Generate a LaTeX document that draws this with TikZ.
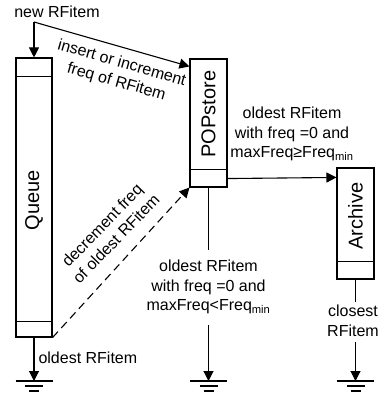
\documentclass[tikz,border=0pt]{standalone}
\usepackage{fontspec}
\setmainfont{Liberation Sans}
\usetikzlibrary{arrows.meta,calc}
\begin{document}
\begin{tikzpicture}[x=1pt,y=-1pt, line width=1.1pt,
  lbl/.style={font=\fontsize{16}{19.5}\selectfont, inner sep=0pt, align=center},
  boxtxt/.style={font=\fontsize{20}{24}\selectfont, rotate=90, inner sep=0pt},
  store/.style={draw, minimum width=36pt, inner sep=0pt},
  arr/.style={-{Triangle[length=10pt,width=10pt]}},
  pics/ground/.style={code={
    \draw (-18.5,0) -- (18.5,0);
    \draw (-9,5) -- (9,5);
    \draw (-5,10) -- (5,10);}}
]
\useasboundingbox (0,0) rectangle (379,393);

% stores
\node[store, minimum height=279pt] (queue) at (34,197.5) {};
\draw ($(queue.north west)+(0,19)$) -- ($(queue.north east)+(0,19)$);
\draw ($(queue.south west)+(0,-16)$) -- ($(queue.south east)+(0,-16)$);
\node[boxtxt] (queuetxt) at (34,200) {Queue};

\node[store, minimum width=37pt, minimum height=128pt] (pop) at (208.5,123) {};
\draw ($(pop.south west)+(0,-18)$) -- ($(pop.south east)+(0,-18)$);
\node[boxtxt] (poptxt) at (208.5,114) {POPstore};

\node[store, minimum width=37pt, minimum height=111pt] (arch) at (355.5,223.5) {};
\draw ($(arch.south west)+(0,-18)$) -- ($(arch.south east)+(0,-18)$);
\node[boxtxt] (archtxt) at (355.5,216) {Archive};

% input
\node[lbl] (new) at (57,12) {new RFitem};
\coordinate (nr) at (34,22);
\draw[arr] (nr) -- (queue.north);
\draw[arr] (nr) -- ($(pop.north west)+(0,8)$);
\node[lbl, rotate=-16] (ins) at (119,73) {insert or increment\\freq of RFitem};

% pop -> archive
\draw[arr] ($(pop.south east)+(0,-9)$) -- ($(arch.north west)+(0,10)$);
\node[lbl] (cond1) at (292,134) {oldest RFitem\\with freq =0 and\\maxFreq≥Freq\textsubscript{min}};

% queue -> pop dashed
\draw[arr, dash pattern=on 8pt off 5pt] (queue.south east) -- (pop.south west);
\node[lbl, rotate=46] (dec) at (109,232) {decrement freq\\of oldest RFitem};

% queue out
\coordinate (g1) at (34,381);
\draw[arr] (queue.south) -- (g1);
\pic at (g1) {ground};
\node[lbl, anchor=west] (old) at (38,358) {oldest RFitem};

% pop out
\node[lbl] (cond2) at (208.5,287) {oldest RFitem\\with freq =0 and\\maxFreq<Freq\textsubscript{min}};
\coordinate (g2) at (208.5,381);
\draw (pop.south) -- ($(cond2.north)+(0,-9)$);
\draw[arr] ($(cond2.south)+(0,10)$) -- (g2);
\pic at (g2) {ground};

% archive out
\node[lbl] (closest) at (353,321) {closest\\RFitem};
\coordinate (g3) at (355.5,381);
\draw (arch.south) -- (arch.south |- 0,302);
\draw[arr] (arch.south |- 0,342) -- (g3);
\pic at (g3) {ground};
\end{tikzpicture}
\end{document}
